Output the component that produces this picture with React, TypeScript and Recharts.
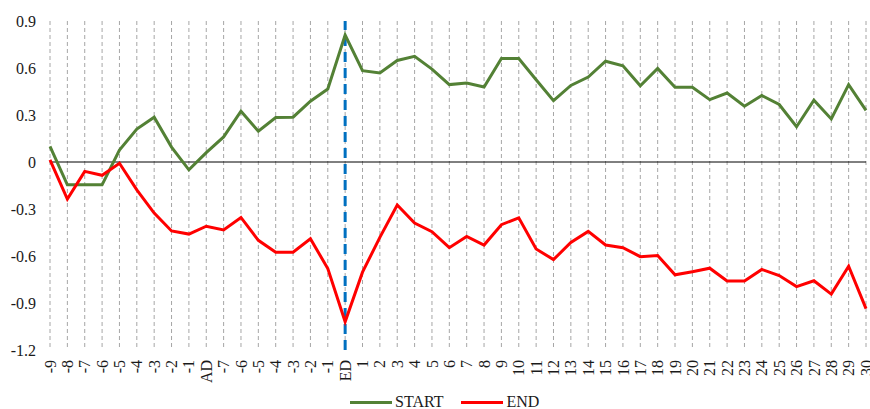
import React from 'react';
import { LineChart, Line, XAxis, YAxis, CartesianGrid, ReferenceLine, Legend } from 'recharts';

// Event-time categories: pre-AD window, AD, pre-ED window, ED, post-ED days
const LABELS = [
  '-9', '-8', '-7', '-6', '-5', '-4', '-3', '-2', '-1', 'AD',
  '-7', '-6', '-5', '-4', '-3', '-2', '-1', 'ED',
  '1', '2', '3', '4', '5', '6', '7', '8', '9', '10',
  '11', '12', '13', '14', '15', '16', '17', '18', '19', '20',
  '21', '22', '23', '24', '25', '26', '27', '28', '29', '30',
];

const START = [
  0.10, -0.146, -0.146, -0.146, 0.076, 0.21, 0.286, 0.095, -0.05, 0.06,
  0.16, 0.324, 0.197, 0.284, 0.286, 0.388, 0.466, 0.81,
  0.583, 0.568, 0.648, 0.674, 0.593, 0.494, 0.504, 0.479, 0.661, 0.661,
  0.525, 0.392, 0.489, 0.542, 0.643, 0.614, 0.487, 0.597, 0.477, 0.477,
  0.398, 0.44, 0.356, 0.424, 0.367, 0.225, 0.394, 0.275, 0.494, 0.33,
];

const END = [
  0.013, -0.237, -0.06, -0.085, -0.008, -0.178, -0.326, -0.44, -0.46, -0.41,
  -0.434, -0.354, -0.50, -0.576, -0.576, -0.49, -0.68, -1.02,
  -0.703, -0.481, -0.275, -0.39, -0.445, -0.547, -0.475, -0.53, -0.40, -0.356,
  -0.555, -0.623, -0.513, -0.443, -0.53, -0.547, -0.604, -0.597, -0.72, -0.70,
  -0.678, -0.76, -0.76, -0.686, -0.725, -0.795, -0.758, -0.843, -0.665, -0.936,
];

const Y_TICKS = [-1.2, -0.9, -0.6, -0.3, 0, 0.3, 0.6, 0.9];
const SERIES_ORDER = ['START', 'END'];
const ED_INDEX = LABELS.indexOf('ED');

const data = LABELS.map((label, i) => ({ idx: i, label, START: START[i], END: END[i] }));
const xTicks = data.map((d) => d.idx);

const FONT = 'Liberation Serif';
const TEXT = '#1a1a1a';
const GREEN = '#538135';
const RED = '#ff0000';
const BLUE = '#0070c0';

const RotatedTick = (props: any) => {
  const { x, y, payload } = props;
  return (
    <text
      x={x}
      y={y}
      transform={`rotate(-90 ${x} ${y})`}
      textAnchor="end"
      dy="0.35em"
      fontFamily={FONT}
      fontSize={16}
      fill={TEXT}
    >
      {LABELS[payload.value]}
    </text>
  );
};

const LegendContent = (props: any) => {
  const items = [...(props.payload || [])].sort(
    (a: any, b: any) => SERIES_ORDER.indexOf(a.value) - SERIES_ORDER.indexOf(b.value)
  );
  return (
    <div
      style={{
        display: 'flex',
        alignItems: 'center',
        paddingLeft: 350,
        height: 20,
        position: 'relative',
        top: 3,
        fontFamily: FONT,
        fontSize: 16,
        color: TEXT,
      }}
    >
      {items.map((it: any, i: number) => (
        <div key={it.value} style={{ display: 'flex', alignItems: 'center', marginRight: i === 0 ? 18 : 0 }}>
          <div style={{ width: 42, height: 3, background: it.color, marginRight: 3 }} />
          <span>{it.value}</span>
        </div>
      ))}
    </div>
  );
};

export default function App() {
  return (
    <div style={{ width: 870, height: 409 }}>
      <style>{'body{margin:0}'}</style>
      <LineChart width={870} height={409} data={data} margin={{ top: 21, right: 4, bottom: 0, left: 0 }}>
        <CartesianGrid horizontal={false} stroke="#a6a6a6" strokeDasharray="4 3" />
        <XAxis
          dataKey="idx"
          type="number"
          domain={[0, LABELS.length - 1]}
          ticks={xTicks}
          interval={0}
          axisLine={false}
          tickLine={false}
          tickSize={0}
          tickMargin={10}
          height={39}
          tick={<RotatedTick />}
        />
        <YAxis
          domain={[-1.2, 0.9]}
          ticks={Y_TICKS}
          width={50}
          axisLine={false}
          tickLine={false}
          tickSize={0}
          tickMargin={14}
          tick={{ fontFamily: FONT, fontSize: 16, fill: TEXT }}
          tickFormatter={(v: number) => String(v)}
        />
        <ReferenceLine y={0} stroke="#000" strokeWidth={1} />
        <ReferenceLine x={ED_INDEX} stroke={BLUE} strokeWidth={3} strokeDasharray="10 6" />
        <Legend verticalAlign="bottom" height={20} content={<LegendContent />} />
        <Line type="linear" dataKey="START" stroke={GREEN} strokeWidth={3} dot={false} isAnimationActive={false} />
        <Line type="linear" dataKey="END" stroke={RED} strokeWidth={3} dot={false} isAnimationActive={false} />
      </LineChart>
    </div>
  );
}
